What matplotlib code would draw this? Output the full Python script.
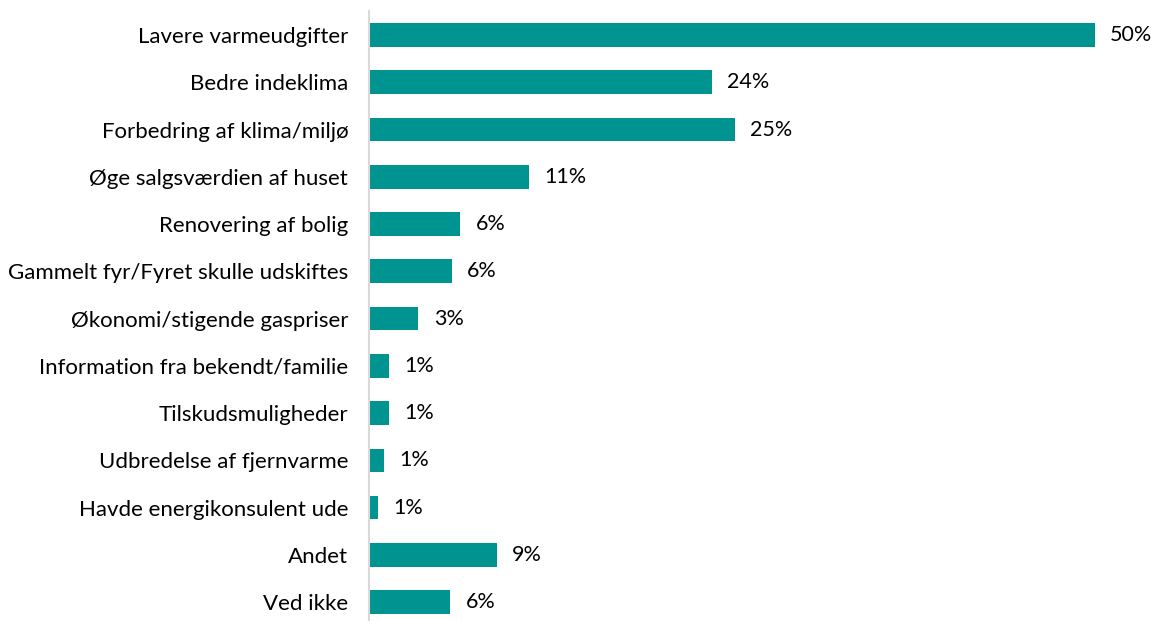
import matplotlib.pyplot as plt
import numpy as np

plt.rcParams['font.family'] = ['Lato', 'DejaVu Sans']

categories = [
    "Lavere varmeudgifter",
    "Bedre indeklima",
    "Forbedring af klima/miljø",
    "Øge salgsværdien af huset",
    "Renovering af bolig",
    "Gammelt fyr/Fyret skulle udskiftes",
    "Økonomi/stigende gaspriser",
    "Information fra bekendt/familie",
    "Tilskudsmuligheder",
    "Udbredelse af fjernvarme",
    "Havde energikonsulent ude",
    "Andet",
    "Ved ikke",
]
values = [50.0, 23.6, 25.2, 11.0, 6.3, 5.7, 3.4, 1.4, 1.4, 1.0, 0.6, 8.8, 5.6]
labels = ["50%", "24%", "25%", "11%", "6%", "6%", "3%", "1%", "1%", "1%", "1%", "9%", "6%"]

fig = plt.figure(figsize=(11.52, 6.21), dpi=100)
ax = fig.add_axes([369 / 1152, 0.0, 1 - 369 / 1152, 1 - 11.4 / 621])

y = np.arange(len(categories))
bars = ax.barh(y, values, height=0.5, color="#009490")

for b, lab in zip(bars, labels):
    ax.annotate(lab, (b.get_width(), b.get_y() + b.get_height() / 2),
                xytext=(11, 0), textcoords="offset points",
                ha="left", va="center", fontsize=15.5, color="black")

ax.set_yticks(y)
ax.set_yticklabels(categories, fontsize=16)
ax.tick_params(axis="y", length=0, pad=15)
ax.set_xticks([])
ax.set_xlim(0, (1152 - 369) / 14.52)
ax.set_ylim(12.4, -0.5)

for s in ["top", "right", "bottom"]:
    ax.spines[s].set_visible(False)
ax.spines["left"].set_color("#d9d9d9")
ax.spines["left"].set_linewidth(1.5)

fig.savefig("out.png", dpi=100)
